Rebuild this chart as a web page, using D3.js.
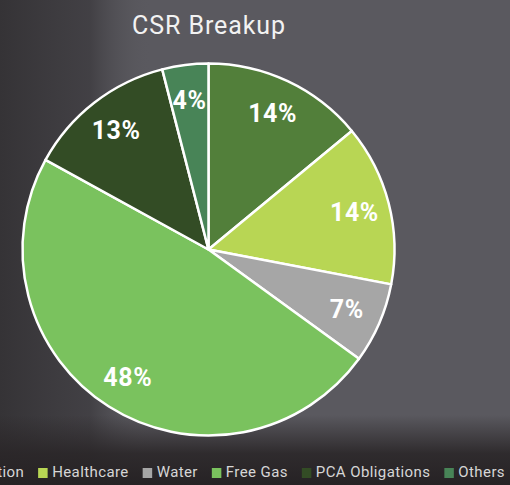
<!DOCTYPE html>
<html>
<head>
<meta charset="utf-8">
<script src="https://cdn.jsdelivr.net/npm/d3@7"></script>
<style>
  html, body { margin: 0; padding: 0; background: #58575c; overflow: hidden; }
  svg { display: block; }
</style>
</head>
<body>
<div id="chart"></div>
<script>
  // CSR spend split
  const categories = ['Education', 'Healthcare', 'Water', 'Free Gas', 'PCA Obligations', 'Others'];
  const shares = [14, 14, 7, 48, 13, 4];
  const colors = ['#527f3a', '#b8d654', '#a6a6a6', '#7ac25e', '#334c25', '#488457'];

  const width = 510, height = 485;
  const cx = 208.5, cy = 249.5, radius = 186;

  const svg = d3.select('#chart').append('svg')
    .attr('width', width)
    .attr('height', height);

  // Blurred photo backdrop approximated with gradients
  const defs = svg.append('defs');
  const leftShade = defs.append('linearGradient').attr('id', 'leftShade')
    .attr('x1', 0).attr('x2', 1).attr('y1', 0).attr('y2', 0);
  leftShade.append('stop').attr('offset', 0).attr('stop-color', '#353336').attr('stop-opacity', 1);
  leftShade.append('stop').attr('offset', 0.6).attr('stop-color', '#3c3a3e').attr('stop-opacity', 0.8);
  leftShade.append('stop').attr('offset', 1).attr('stop-color', '#58575c').attr('stop-opacity', 0);

  const bottomShade = defs.append('linearGradient').attr('id', 'bottomShade')
    .attr('x1', 0).attr('x2', 0).attr('y1', 0).attr('y2', 1);
  bottomShade.append('stop').attr('offset', 0).attr('stop-color', '#2a2628').attr('stop-opacity', 0);
  bottomShade.append('stop').attr('offset', 0.55).attr('stop-color', '#2a2628').attr('stop-opacity', 0.9);
  bottomShade.append('stop').attr('offset', 1).attr('stop-color', '#262224').attr('stop-opacity', 1);

  svg.append('rect').attr('width', width).attr('height', height).attr('fill', '#5a595f');
  svg.append('rect').attr('width', 150).attr('height', height).attr('fill', 'url(#leftShade)');
  svg.append('rect').attr('y', 415).attr('width', width).attr('height', 70).attr('fill', 'url(#bottomShade)');

  // Title
  svg.append('text')
    .attr('x', 209)
    .attr('y', 34)
    .attr('text-anchor', 'middle')
    .attr('fill', '#f2f2f2')
    .style('font-family', 'Roboto, sans-serif')
    .style('font-weight', 400)
    .style('font-size', '25px')
    .style('letter-spacing', '0.9px')
    .text('CSR Breakup');

  const pie = d3.pie().sort(null).value(d => d);
  const arc = d3.arc().innerRadius(0).outerRadius(radius);
  const labelArc = d3.arc().innerRadius(radius * 0.81).outerRadius(radius * 0.81);
  const color = d3.scaleOrdinal().domain(categories).range(colors);

  const arcs = pie(shares);
  const g = svg.append('g').attr('transform', `translate(${cx},${cy})`);

  g.selectAll('path.slice')
    .data(arcs)
    .join('path')
    .attr('class', 'slice')
    .attr('d', arc)
    .attr('fill', (d, i) => color(categories[i]))
    .attr('stroke', '#ffffff')
    .attr('stroke-width', 2.5)
    .attr('stroke-linejoin', 'round');

  g.selectAll('text.pct')
    .data(arcs)
    .join('text')
    .attr('class', 'pct')
    .attr('transform', d => `translate(${labelArc.centroid(d)})`)
    .attr('text-anchor', 'middle')
    .attr('dy', '0.36em')
    .attr('fill', '#ffffff')
    .style('font-family', 'Roboto, sans-serif')
    .style('font-weight', 'bold')
    .style('font-size', '25px')
    .style('letter-spacing', '0.6px')
    .text(d => d.data + '%');

  // Legend, runs off the left edge like the source
  const legend = svg.append('g').attr('transform', 'translate(0,477)');
  let x = -60;
  categories.forEach((name, i) => {
    const item = legend.append('g').attr('transform', `translate(${x},0)`);
    item.append('rect')
      .attr('x', 0).attr('y', -9)
      .attr('width', 9.5).attr('height', 10)
      .attr('fill', colors[i]);
    const t = item.append('text')
      .attr('x', 14).attr('y', 0)
      .attr('fill', '#d6d6d6')
      .style('font-family', 'Roboto, sans-serif')
      .style('font-size', '15px')
      .style('letter-spacing', '0.4px')
      .text(name);
    x += 14 + t.node().getComputedTextLength() + 14;
  });
</script>
</body>
</html>
